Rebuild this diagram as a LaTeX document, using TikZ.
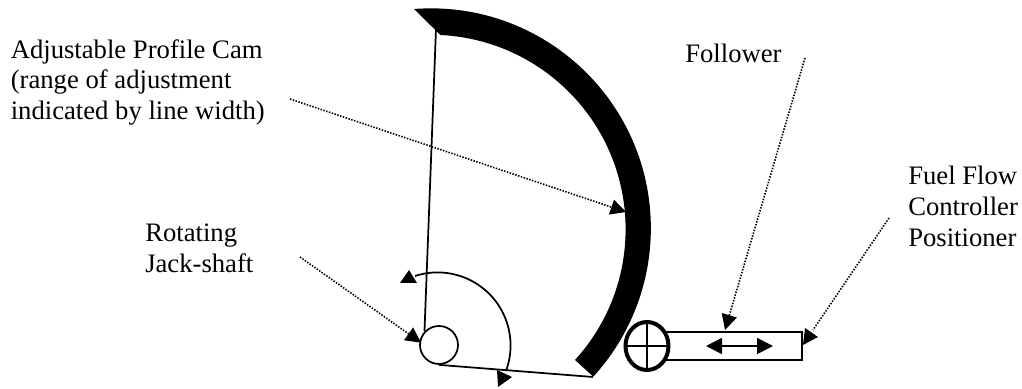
\documentclass[tikz,border=0pt]{standalone}
\usepackage{fontspec}
\setmainfont{Liberation Serif}
\usetikzlibrary{arrows.meta}
\tikzset{
  x=0.75pt,y=0.75pt,
  label text/.style={inner sep=0pt,align=left,anchor=north west,font=\fontsize{20}{23}\selectfont},
  thin part/.style={draw=black,line width=1.3pt},
  leader/.style={draw=black,line width=1.2pt,dash pattern=on 1.1pt off 1.1pt,-{Triangle[length=11.5pt,width=11.5pt]}},
  leader plain/.style={draw=black,line width=1.2pt,dash pattern=on 1.1pt off 1.1pt},
  head/.style={fill=black,draw=none},
}
\begin{document}
\begin{tikzpicture}
\useasboundingbox (0,0) rectangle (1022,389);
% y here = 389 - pixel row
\coordinate (camc) at (431,160);
% cam
\fill[black] (414,380) arc[start angle=94.4,end angle=-42.4,radius=220]
  -- (575,360-331) arc[start angle=-42.3,end angle=87.3,radius=194.4] -- cycle;
% box
\node[draw=black,line width=1.3pt,minimum width=105pt,minimum height=21pt,inner sep=0pt,anchor=east] (box) at (803,43) {};
\node[draw=black,line width=1.3pt,fill=white,circle,minimum size=28.5pt,inner sep=0pt] (hub) at (439,44) {};
% follower
\draw[fill=white,draw=black,line width=3pt] (647,43) ellipse[x radius=21.5,y radius=24];
\coordinate (foll) at (647,43);
\draw[thin part] (625.5,43) -- (668.5,43) (647,67) -- (647,19);
% links
\coordinate (camtop) at (436,360);
\coordinate (cambot) at (593,12);
\draw[thin part] (hub.137) -- (camtop);
\draw[thin part] (hub.south) -- (cambot);
% rotation arc
\draw[thin part] (415,113) arc[start angle=108,end angle=-20,radius=73] ;
\fill[head] (400,106) -- (417,106) -- (409,119) -- cycle;
\fill[head] (497,19) -- (512,12) -- (498,2) -- cycle;
% double arrow
\draw[line width=1.3pt,{Triangle[length=12pt,width=12pt]}-{Triangle[length=12pt,width=12pt]}] (706,43) -- (773,43);
% labels
\node[label text] (cam) at (10.5,350) {Adjustable Profile Cam\\(range of adjustment\\indicated by line width)};
\node[label text] (rot) at (145,165) {Rotating\\Jack-shaft};
\node[label text] (fol) at (685,345) {Follower};
\node[label text] (fuel) at (908,223) {Fuel Flow\\Controller\\Positioner};
% leaders
\coordinate (l1) at (290,290);
\coordinate (t1) at (626,177);
\coordinate (l2) at (300,132);
\coordinate (l3) at (805,331);
\coordinate (t3) at (725,59);
\coordinate (l4) at (889,171);
\coordinate (t4) at (813,59);
\draw[leader] (l1) -- (t1);
\draw[leader,shorten >=-1.5pt] (l2) -- (hub.170);
\draw[leader] (l3) -- (t3);
\draw[leader plain] (l4) -- (t4);
\fill[head] (805,61) -- (818,52) -- (803,44) -- cycle;
\end{tikzpicture}
\end{document}
